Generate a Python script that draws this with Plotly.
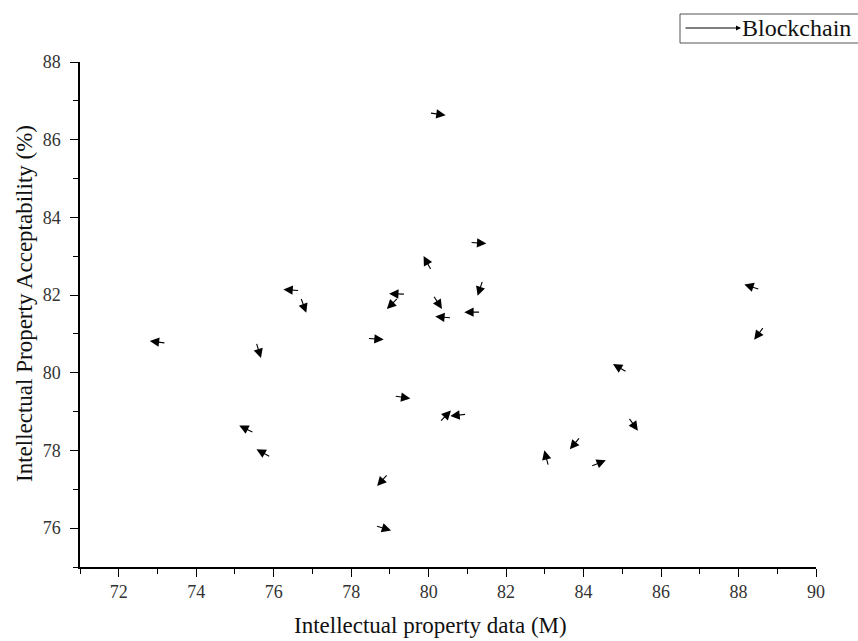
import math
import plotly.graph_objects as go

# Vector data (position, direction angle in degrees, magnitude)
x_pos = [80.23, 81.28, 79.97, 81.33, 79.19, 79.07, 80.23, 80.38, 81.13, 76.46,
         76.77, 73.01, 75.61, 78.63, 88.35, 88.53, 84.94, 79.32, 80.43, 80.77,
         75.30, 75.74, 78.81, 78.83, 85.28, 83.78, 83.04, 84.38]
y_pos = [86.66, 83.34, 82.82, 82.18, 82.03, 81.79, 81.82, 81.43, 81.56, 82.13,
         81.74, 80.79, 80.58, 80.87, 82.21, 81.02, 80.12, 79.37, 78.88, 78.91,
         78.55, 77.93, 77.24, 76.00, 78.68, 78.19, 77.80, 77.67]
angle = [-8, -4, 118.6, -108, 178, -135, -57, 175, 180, 176,
         -70, 173, -73, -4, 162, -127, 150, -8, 46, -174,
         154.5, 151, -132, -17, -54.5, -130, 104.7, 21.8]
magnitude = [0.42] * len(x_pos)

series_name = "Blockchain"
x_title = "Intellectual property data (M)"
y_title = "Intellectual Property Acceptability (%)"

FONT = "Liberation Serif, Times New Roman, serif"

fig = go.Figure()
# invisible trace to establish axes
fig.add_trace(go.Scatter(x=x_pos, y=y_pos, mode="markers",
                         marker=dict(size=1, opacity=0), showlegend=False,
                         hoverinfo="skip"))

annotations = []
for xc, yc, a, m in zip(x_pos, y_pos, angle, magnitude):
    r = math.radians(a)
    dx, dy = m / 2 * math.cos(r), m / 2 * math.sin(r)
    annotations.append(dict(
        x=xc + dx, y=yc + dy, ax=xc - dx, ay=yc - dy,
        xref="x", yref="y", axref="x", ayref="y",
        text="", showarrow=True, arrowhead=2, arrowsize=1.7,
        arrowwidth=1.1, arrowcolor="black", standoff=0, startstandoff=0,
    ))

# legend (manual)
annotations.append(dict(
    x=(741 - 80) / 736, y=(567 - 28) / 505, xref="paper", yref="paper",
    ax=-57, ay=0, text="", showarrow=True, arrowhead=2, arrowsize=1.0,
    arrowwidth=1.0, arrowcolor="black", standoff=0,
))
annotations.append(dict(
    x=(740 - 80) / 736, y=(567 - 28) / 505, xref="paper", yref="paper",
    text=series_name, showarrow=False, xanchor="left", yanchor="middle",
    font=dict(family=FONT, size=24, color="#111"),
))
# axis titles
annotations.append(dict(
    x=(430 - 80) / 736, y=(567 - 625) / 505, xref="paper", yref="paper",
    text=x_title, showarrow=False, xanchor="center", yanchor="middle",
    font=dict(family=FONT, size=23, color="#111"),
))
annotations.append(dict(
    x=(24 - 80) / 736, y=(567 - 304) / 505, xref="paper", yref="paper",
    text=y_title, showarrow=False, xanchor="center", yanchor="middle",
    textangle=-90, font=dict(family=FONT, size=23, color="#111"),
))

fig.update_layout(
    width=858, height=641,
    margin=dict(l=80, r=42, t=62, b=74),
    paper_bgcolor="white", plot_bgcolor="white",
    showlegend=False,
    annotations=annotations,
    shapes=[dict(type="rect", xref="paper", yref="paper",
                 x0=(680 - 80) / 736, x1=(862 - 80) / 736,
                 y0=(567 - 43) / 505, y1=(567 - 14) / 505,
                 line=dict(color="#555", width=1), fillcolor="rgba(0,0,0,0)")],
    font=dict(family=FONT, color="#222"),
)

fig.update_xaxes(
    range=[71, 90], tickmode="array", tickvals=list(range(72, 91, 2)),
    ticktext=[str(v) for v in range(72, 91, 2)],
    ticks="outside", ticklen=8, tickwidth=1.3, tickcolor="black",
    showline=True, linecolor="black", linewidth=1.5, showgrid=False,
    zeroline=False, tickfont=dict(family=FONT, size=18, color="#333"),
    minor=dict(ticks="outside", ticklen=5, tickwidth=1.2, tickcolor="black",
               dtick=1, tick0=71, showgrid=False),
)
fig.update_yaxes(
    range=[75, 88], tickmode="array", tickvals=list(range(76, 89, 2)),
    ticktext=[str(v) for v in range(76, 89, 2)],
    ticks="outside", ticklen=8, tickwidth=1.3, tickcolor="black",
    showline=True, linecolor="black", linewidth=1.5, showgrid=False,
    zeroline=False, tickfont=dict(family=FONT, size=18, color="#333"),
    ticklabelstandoff=6,
    minor=dict(ticks="outside", ticklen=5, tickwidth=1.2, tickcolor="black",
               dtick=1, tick0=75, showgrid=False),
)

fig.write_html("out.html")
